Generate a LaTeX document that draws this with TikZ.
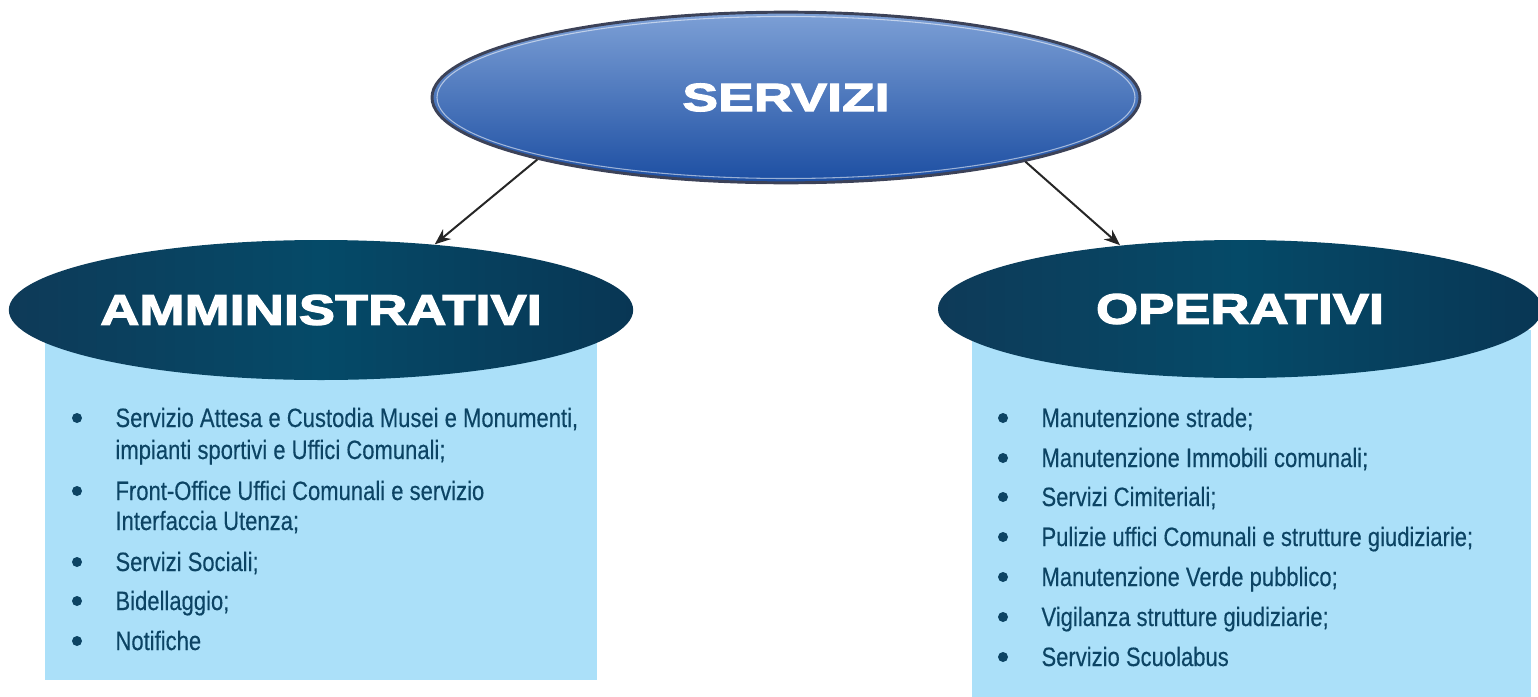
\documentclass[tikz,border=0pt]{standalone}
\usepackage{fontspec}
\usepackage{tikz}
\usetikzlibrary{shapes.geometric,arrows.meta}
\newfontfamily\itemfont[FakeStretch=0.83,FakeBold=0.3]{Liberation Sans}
\newfontfamily\titlefont[FakeStretch=1.27,FakeBold=3]{Liberation Sans}
\newfontfamily\topfont[FakeStretch=1.36,FakeBold=3]{Liberation Sans}
\definecolor{srvtop}{RGB}{125,160,214}
\definecolor{srvbot}{RGB}{28,78,162}
\definecolor{srvrim}{RGB}{60,66,88}
\definecolor{grpleft}{RGB}{14,58,88}
\definecolor{grpmid}{RGB}{5,74,104}
\definecolor{grpright}{RGB}{8,54,84}
\definecolor{boxfill}{RGB}{171,224,249}
\definecolor{itemtext}{RGB}{12,68,100}
\tikzset{every picture/.style={line width=0.75pt}}
\tikzset{
  topnode/.style={ellipse, inner sep=0pt, minimum width=531pt, minimum height=128pt,
    top color=srvtop, bottom color=srvbot, draw=srvrim, line width=2.2pt,
    text=white, font=\topfont\bfseries\fontsize{29.5}{30}\selectfont},
  grpnode/.style={ellipse, inner sep=0pt, left color=grpleft, right color=grpright,
    middle color=grpmid, text=white, font=\titlefont\bfseries\fontsize{32}{33}\selectfont},
  listbox/.style={rectangle, inner sep=0pt, fill=boxfill},
  item/.style={anchor=base west, inner sep=0pt, text=itemtext,
    font=\itemfont\fontsize{19.9}{24}\selectfont},
  dot/.style={circle, fill=itemtext, inner sep=0pt, minimum size=7.5pt},
  arr/.style={-{Stealth[length=12pt,width=9.5pt]}, line width=1.5pt, black!85},
}
\begin{document}
\begin{tikzpicture}[x=0.75pt,y=0.75pt,yscale=-1,xscale=1]
\useasboundingbox (0,0) rectangle (1538,696);

%Boxes behind the two groups
\node (ammbox) [listbox, minimum width=414pt, minimum height=262.5pt] at (321,505) {};
\node (opebox) [listbox, minimum width=419.25pt, minimum height=277.5pt] at (1251.5,515) {};

%Top ellipse
\node (servizi) [topnode] at (786,97.5) {SERVIZI};
\draw [white, opacity=0.55, line width=0.8pt] (servizi.center) ellipse [x radius=349, y radius=81];

%Group ellipses
\node (amm) [grpnode, minimum width=466.5pt, minimum height=105pt] at (321,310) {AMMINISTRATIVI};
\node (ope) [grpnode, minimum width=453pt, minimum height=103.5pt] at (1240,309) {OPERATIVI};

%Arrows
\draw [arr] (servizi.-166) -- (amm.30);
\draw [arr] (servizi.-15) -- (ope.152);

% Left list
\foreach \y/\txt [count=\i] in {427/{Servizio Attesa e Custodia Musei e Monumenti,},
    459/{impianti sportivi e Uffici Comunali;},
    500/{Front-Office Uffici Comunali e servizio},
    530/{Interfaccia Utenza;},
    571/{Servizi Sociali;},
    610/{Bidellaggio;},
    650/{Notifiche}}
  \node (ammline-\i) [item] at (115,\y) {\txt};
\foreach \y [count=\i] in {418,491,562,601,641}
  \node (ammdot-\i) [dot] at (77,\y) {};

% Right list
\foreach \y/\txt [count=\i] in {427/{Manutenzione strade;},
    467/{Manutenzione Immobili comunali;},
    506/{Servizi Cimiteriali;},
    546/{Pulizie uffici Comunali e strutture giudiziarie;},
    586/{Manutenzione Verde pubblico;},
    626/{Vigilanza strutture giudiziarie;},
    666/{Servizio Scuolabus}}
  \node (opeline-\i) [item] at (1041,\y) {\txt};
\foreach \y [count=\i] in {418,458,497,537,577,617,657}
  \node (opedot-\i) [dot] at (1003,\y) {};

\end{tikzpicture}
\end{document}
